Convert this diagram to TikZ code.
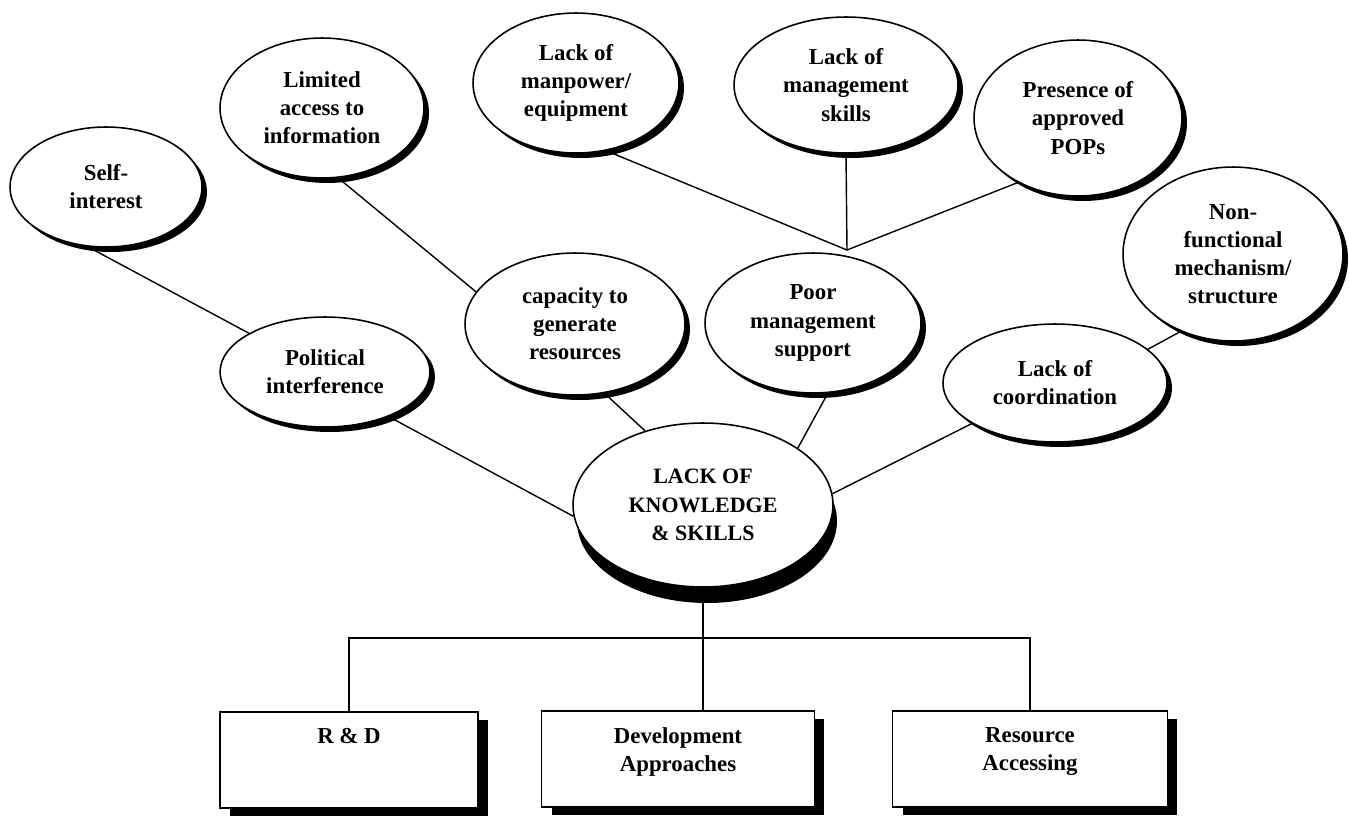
\documentclass[tikz,border=0pt]{standalone}
\usepackage{fontspec}
\setmainfont{Liberation Serif}
\usetikzlibrary{shapes.geometric, shadows, positioning}

\begin{document}
\begin{tikzpicture}[x=0.02cm, y=-0.02cm]
\tikzset{
every node/.style={font=\bfseries\fontsize{13}{16}\selectfont, align=center}, % bold serif labels everywhere
bubble/.style={ellipse, draw, line width=0.9pt, fill=white, inner sep=0pt,
  drop shadow={shadow xshift=0.1cm, shadow yshift=-0.1cm, fill=black, opacity=1}}, % the cause ellipses
core/.style={ellipse, draw, line width=0.9pt, fill=white, inner sep=0pt,
  minimum width=5.2cm, minimum height=3.28cm, font=\bfseries\fontsize{12.5}{16.2}\selectfont,
  drop shadow={shadow xshift=0.08cm, shadow yshift=-0.32cm, fill=black, opacity=1}}, % the central problem
box/.style={rectangle, draw, line width=0.8pt, fill=white, minimum height=1.92cm,
  drop shadow={shadow xshift=0.2cm, shadow yshift=-0.16cm, fill=black, opacity=1}}, % the three result boxes
boxtext/.style={inner sep=0pt}, % label at the top of a box
link/.style={line width=0.8pt}, % plain connectors
}
\useasboundingbox (0,0) rectangle (1349,816);

	% causes
	\node[bubble, minimum width=3.84cm, minimum height=2.4cm] (self) at (106,187) {Self-\\interest};
	\node[bubble, minimum width=4.2cm, minimum height=2.2cm] (pol) at (325,372) {Political\\interference};
	\node[bubble, minimum width=4.08cm, minimum height=2.8cm] (lim) at (322,108) {Limited\\access to\\information};
	\node[bubble, minimum width=4.12cm, minimum height=2.8cm] (man) at (576,83) {Lack of\\manpower/\\equipment};
	\node[bubble, minimum width=4.48cm, minimum height=2.72cm] (mgs) at (846,85) {Lack of\\management\\skills};
	\node[bubble, minimum width=4.16cm, minimum height=3.12cm] (pop) at (1078,118) {Presence of\\approved\\POPs};
	\node[bubble, minimum width=4.4cm, minimum height=3.48cm] (non) at (1233,254) {Non-\\functional\\mechanism/\\structure};
	\node[bubble, minimum width=4.4cm, minimum height=2.84cm] (cap) at (575,324) {capacity to\\generate\\resources};
	\node[bubble, minimum width=4.32cm, minimum height=2.8cm] (poo) at (813,323) {Poor\\management\\support};
	\node[bubble, minimum width=4.48cm, minimum height=2.36cm] (coo) at (1055,383) {Lack of\\coordination};
	\node[core] (kno) at (703,505) {LACK OF\\KNOWLEDGE\\\& SKILLS};

	% effects
	\node[box, minimum width=5.16cm] (rd) at (349,760) {};
	\node[box, minimum width=5.46cm] (dev) at (678,759) {};
	\node[box, minimum width=5.5cm] (res) at (1030,759) {};
	\node[boxtext, below=0.34cm of rd.north] (rdt) {R \& D};
	\node[boxtext, below=0.34cm of dev.north] (devt) {Development\\Approaches};
	\node[boxtext, below=0.34cm of res.north] (rest) {Resource\\Accessing};

	\coordinate (jn) at (847,250);
	\coordinate (bus) at (703,638);

	\draw[link] (self.-107) -- (pol.153);
	\draw[link] (lim.-77) -- (cap.162);
	\draw[link] (pol.-35) -- (kno.-175);
	\draw[link] (cap.-67) -- (kno.128);
	\draw[link] (poo.-78) -- (kno.31);
	\draw[link] (coo.-154) -- (kno.5);
	\draw[link] (non.-124) -- (coo.20);
	\draw[link] (man.-66) -- (jn) -- (pop.-133);
	\draw[link] (mgs.south) -- (jn);
	\draw[link] (kno.south) -- (kno.south |- dev.north);
	\draw[link] (rd.north) |- (bus) -| (res.north);
\end{tikzpicture}
\end{document}
